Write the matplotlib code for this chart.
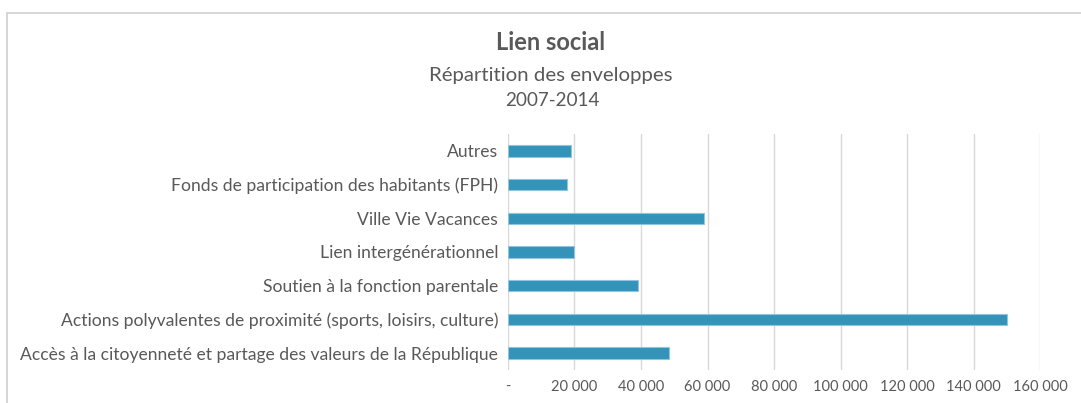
import matplotlib.pyplot as plt
from matplotlib.patches import Rectangle
from matplotlib.ticker import FuncFormatter

plt.rcParams['font.family'] = ['Lato', 'DejaVu Sans']

categories = [
    "Accès à la citoyenneté et partage des valeurs de la République",
    "Actions polyvalentes de proximité (sports, loisirs, culture)",
    "Soutien à la fonction parentale",
    "Lien intergénérationnel",
    "Ville Vie Vacances",
    "Fonds de participation des habitants (FPH)",
    "Autres",
]
values = [48400, 149800, 39200, 19900, 58800, 17800, 19100]
xticks = [0, 20000, 40000, 60000, 80000, 100000, 120000, 140000, 160000]

grey = "#595959"

fig = plt.figure(figsize=(10.81, 4.03), dpi=100)
ax = fig.add_axes([0.4697, 0.0819, 0.9625 - 0.4697, 0.6675 - 0.0819])

ax.barh(categories, values, height=0.34, color="#3493b9",
        edgecolor="#8fc6dd", linewidth=0.8, zorder=3)

ax.set_xlim(0, 160000)
ax.set_ylim(-0.5, len(categories) - 0.5)
ax.set_xticks(xticks)


def fmt(v, pos):
    if v == 0:
        return "-"
    return "{:,}".format(int(v)).replace(",", " ")


ax.xaxis.set_major_formatter(FuncFormatter(fmt))
ax.grid(axis="x", color="#d9d9d9", linewidth=1, zorder=0)
ax.tick_params(length=0, labelcolor=grey)
ax.tick_params(axis="x", pad=7, labelsize=10.5)
ax.tick_params(axis="y", pad=7, labelsize=12.6)
for s in ax.spines.values():
    s.set_visible(False)

fig.text(0.5095, 1 - 43 / 403, "Lien social", ha="center", va="center",
         fontsize=17, fontweight="bold", color=grey)
fig.text(0.5095, 1 - 76 / 403, "Répartition des enveloppes", ha="center",
         va="center", fontsize=14.7, color=grey)
fig.text(0.5105, 1 - 100 / 403, "2007-2014", ha="center", va="center",
         fontsize=13.6, color=grey)

# chart border
fig.patches.append(Rectangle((7 / 1081, -0.1), 1.2, 1 - 13 / 403 + 0.1,
                             transform=fig.transFigure, fill=False,
                             edgecolor="#d0d0d0", linewidth=1.2))

fig.savefig("out.png", dpi=100)
